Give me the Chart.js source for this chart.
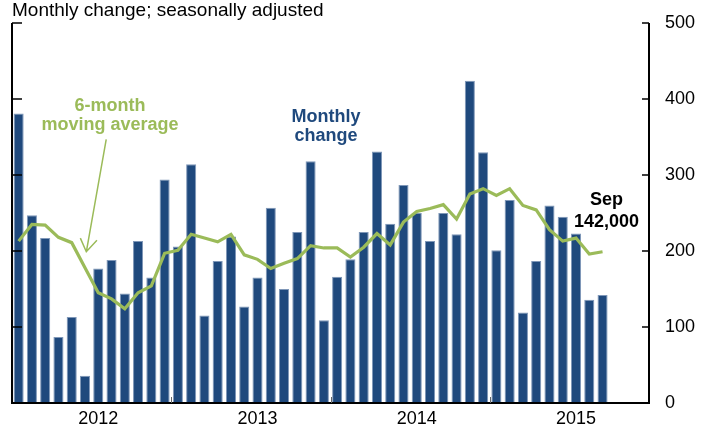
<!DOCTYPE html>
<html><head><meta charset="utf-8">
<script src="https://cdn.jsdelivr.net/npm/chart.js@4.4.1/dist/chart.umd.min.js"></script>
<style>html,body{margin:0;padding:0;background:#fff;}#wrap{width:717px;height:431px;}</style>
</head><body><div id="wrap"><canvas id="c" width="717" height="431"></canvas></div>
<script>
const years = [2012, 2013, 2014, 2015];
const monthNames = ['Jan','Feb','Mar','Apr','May','Jun','Jul','Aug','Sep','Oct','Nov','Dec'];
const categories = [];
years.forEach(y => monthNames.forEach(m => categories.push(m + ' ' + y)));

// Monthly change in payrolls, thousands (Jan 2012 - Sep 2015)
const monthlyChange = [
  381, 247, 217, 87, 113, 36, 177, 188, 144, 213, 165, 294,
  206, 314, 115, 187, 219, 127, 165, 257, 150, 225, 318, 109,
  166, 189, 225, 331, 236, 287, 250, 213, 250, 222, 424, 330,
  201, 267, 119, 187, 260, 245, 223, 136, 142
];
// 6-month moving average, thousands
const movingAverage = [
  213, 235, 234, 218, 211, 178, 145, 137, 124, 145, 154, 197,
  201, 222, 217, 212, 222, 195, 189, 177, 184, 190, 207, 204,
  204, 192, 205, 223, 208, 238, 252, 256, 261, 242, 275, 282,
  273, 282, 260, 254, 228, 213, 217, 196, 199
];
const yTicks = [0, 100, 200, 300, 400, 500];
const titleText = 'Monthly change; seasonally adjusted';
const yearLabelMonth = 'Jul';

const BLUE = '#1f497d';
const GREEN = '#9bbb59';
const FONT = '"Liberation Sans", Arial, sans-serif';

const decor = {
  id: 'decor',
  afterDatasetsDraw(chart) {
    const {ctx, chartArea: a, scales: {x, y}} = chart;
    const top = y.getPixelForValue(yTicks[yTicks.length - 1]);
    ctx.save();
    // axis frame
    ctx.strokeStyle = '#000';
    ctx.lineWidth = 2;
    ctx.beginPath();
    ctx.moveTo(a.left, top);
    ctx.lineTo(a.left, a.bottom);
    ctx.lineTo(a.right, a.bottom);
    ctx.lineTo(a.right, top);
    ctx.stroke();
    // inward tick marks
    ctx.lineWidth = 1.5;
    ctx.beginPath();
    yTicks.forEach(v => {
      if (v === 0) return;
      const py = y.getPixelForValue(v);
      ctx.moveTo(a.left, py); ctx.lineTo(a.left + 10, py);
      ctx.moveTo(a.right, py); ctx.lineTo(a.right - 7, py);
    });
    ctx.stroke();
    // year boundary ticks
    ctx.strokeStyle = '#666';
    ctx.lineWidth = 1;
    ctx.beginPath();
    for (let k = 1; k < years.length; k++) {
      const i = k * 12;
      const px = Math.round((x.getPixelForValue(i - 1) + x.getPixelForValue(i)) / 2) + 0.5;
      ctx.moveTo(px, a.bottom - 6); ctx.lineTo(px, a.bottom);
    }
    ctx.stroke();

    // title
    ctx.fillStyle = '#000';
    ctx.font = '19px ' + FONT;
    ctx.textAlign = 'left';
    ctx.textBaseline = 'alphabetic';
    ctx.fillText(titleText, a.left, 16);

    // annotations (anchored to data coordinates)
    ctx.textAlign = 'center';
    ctx.font = 'bold 18px ' + FONT;
    ctx.fillStyle = GREEN;
    const gx = x.getPixelForValue(6.88);
    ctx.fillText('6-month', gx, y.getPixelForValue(384));
    ctx.fillText('moving average', gx, y.getPixelForValue(359));
    ctx.strokeStyle = GREEN;
    ctx.lineWidth = 1.5;
    const ax0 = x.getPixelForValue(6.6), ay0 = y.getPixelForValue(347);
    const ax1 = x.getPixelForValue(5.1), ay1 = y.getPixelForValue(199);
    ctx.beginPath();
    ctx.moveTo(ax0, ay0); ctx.lineTo(ax1, ay1);
    ctx.moveTo(x.getPixelForValue(4.65), y.getPixelForValue(217)); ctx.lineTo(ax1, ay1);
    ctx.lineTo(x.getPixelForValue(5.9), y.getPixelForValue(214));
    ctx.stroke();

    ctx.fillStyle = BLUE;
    const bx = x.getPixelForValue(23.16);
    ctx.fillText('Monthly', bx, y.getPixelForValue(370));
    ctx.fillText('change', bx, y.getPixelForValue(345));

    ctx.fillStyle = '#000';
    const sx = x.getPixelForValue(44.3);
    ctx.fillText('Sep', sx, y.getPixelForValue(260));
    ctx.fillText('142,000', sx, y.getPixelForValue(232));
    ctx.restore();
  }
};

new Chart(document.getElementById('c'), {
  type: 'bar',
  data: {
    labels: categories,
    datasets: [
      {
        type: 'line',
        data: movingAverage,
        borderColor: GREEN,
        borderWidth: 3.2,
        pointRadius: 0,
        tension: 0,
        fill: false,
        order: 0
      },
      {
        type: 'bar',
        data: monthlyChange,
        backgroundColor: BLUE,
        borderColor: '#7f97b8',
        borderWidth: {left: 1, right: 1, top: 1, bottom: 0},
        barPercentage: 0.76,
        categoryPercentage: 1.0,
        order: 1
      }
    ]
  },
  options: {
    responsive: false,
    animation: false,
    devicePixelRatio: 1,
    layout: {padding: {left: 12, top: 23, right: 0, bottom: 0}},
    plugins: {legend: {display: false}, tooltip: {enabled: false}, title: {display: false}},
    scales: {
      x: {
        offset: true,
        grid: {display: false, drawTicks: false},
        border: {display: false},
        ticks: {
          autoSkip: false,
          maxRotation: 0,
          minRotation: 0,
          padding: 5,
          color: '#000',
          font: {family: FONT, size: 18},
          callback: function(val) {
            const lab = categories[val];
            return lab.startsWith(yearLabelMonth) ? lab.split(' ')[1] : '';
          }
        },
        afterFit: s => { s.height = 28; s.paddingLeft = 0; s.paddingRight = 0; }
      },
      y: {
        position: 'right',
        min: 0,
        max: 500,
        grid: {display: false, drawTicks: false},
        border: {display: false},
        ticks: {
          stepSize: 100,
          padding: 16,
          color: '#000',
          font: {family: FONT, size: 18}
        },
        afterFit: s => { s.width = 68; s.paddingTop = 0; s.paddingBottom = 0; }
      }
    }
  },
  plugins: [decor]
});
</script>
</body></html>
